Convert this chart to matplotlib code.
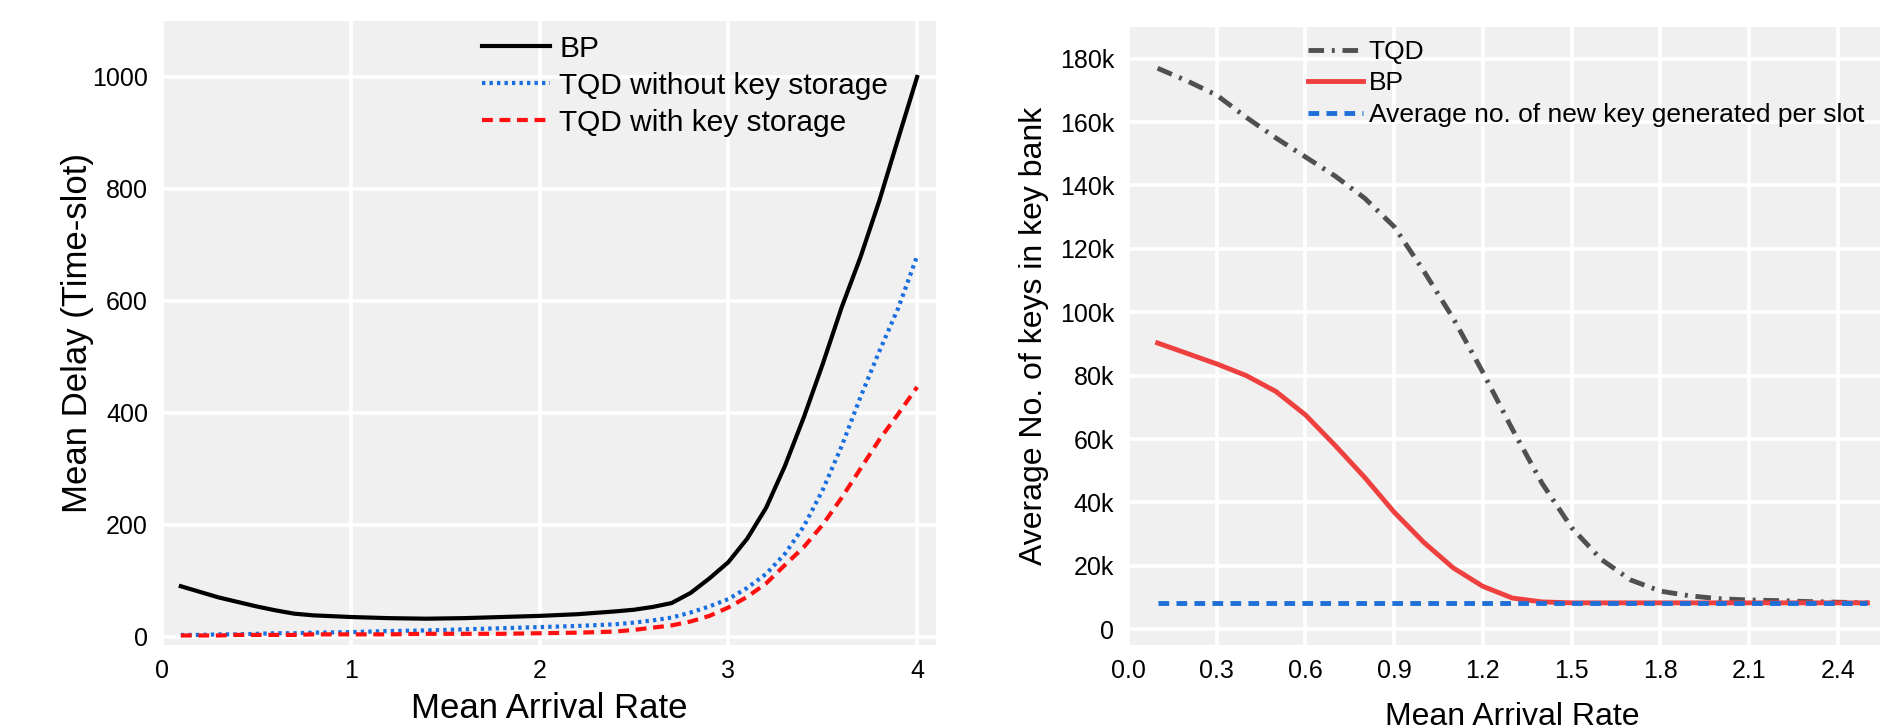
import matplotlib
matplotlib.use("Agg")
import matplotlib.pyplot as plt
from matplotlib.ticker import FuncFormatter

# left panel: mean delay vs arrival rate
rate_l = [0.1, 0.2, 0.3, 0.4, 0.5, 0.6, 0.7, 0.8, 1.0, 1.2, 1.4, 1.6, 1.8, 2.0, 2.2, 2.4, 2.5, 2.6, 2.7,
          2.8, 2.9, 3.0, 3.1, 3.2, 3.3, 3.4, 3.5, 3.6, 3.7, 3.8, 3.9, 4.0]
bp_delay = [90, 80, 70, 62, 54, 47, 41, 38, 35, 33, 32, 33, 35, 37, 40, 45, 48, 53, 60,
            78, 104, 133, 175, 230, 305, 392, 487, 588, 678, 779, 890, 1000]
tqd_nostore = [3, 3, 4, 4, 5, 6, 6, 7, 8, 10, 11, 13, 15, 17, 19, 22, 25, 29, 34,
               43, 54, 67, 87, 112, 148, 197, 262, 340, 428, 510, 587, 680]
tqd_store = [2, 2, 2, 3, 3, 3, 3, 4, 4, 4, 5, 5, 5, 6, 7, 9, 12, 16, 20,
             27, 37, 52, 71, 95, 128, 160, 200, 248, 300, 352, 398, 446]

# right panel: keys in key bank (thousands)
rate_r = [0.1, 0.2, 0.3, 0.4, 0.5, 0.6, 0.7, 0.8, 0.9, 1.0, 1.1, 1.2, 1.3,
          1.4, 1.5, 1.6, 1.7, 1.8, 1.9, 2.0, 2.1, 2.2, 2.3, 2.4, 2.5]
tqd_keys = [177, 173, 168.5, 161.5, 155, 149, 143, 136, 127, 113, 98, 81, 63,
            46, 32, 22, 15.5, 12, 10.5, 9.6, 9.2, 9.0, 8.7, 8.5, 8.3]
bp_keys = [90.3, 87, 83.7, 80, 75, 67.6, 58, 47.9, 36.9, 27.4, 19.3, 13.5, 9.8,
           8.6, 8.3, 8.3, 8.3, 8.3, 8.3, 8.3, 8.3, 8.3, 8.3, 8.3, 8.3]
new_keys = [8.3] * len(rate_r)

plt.rcParams['font.family'] = ['Liberation Sans', 'DejaVu Sans']

fig = plt.figure(figsize=(18.81, 7.27), dpi=100)


def style_axes(ax):
    ax.set_facecolor('#f0f0f0')
    for s in ax.spines.values():
        s.set_visible(False)
    ax.grid(True, color='white', linewidth=2.6)
    ax.set_axisbelow(True)
    ax.tick_params(length=0, pad=10, labelsize=18, colors='black')


ax1 = fig.add_axes([0.0861, 0.1128, 0.4115, 0.8583])
style_axes(ax1)
ax1.plot(rate_l, bp_delay, color='black', lw=3, label='BP')
ax1.plot(rate_l, tqd_nostore, color='#1a6fe0', lw=3, dashes=(0.8, 1.0), label='TQD without key storage')
ax1.plot(rate_l, tqd_store, color='#ff1010', lw=3, dashes=(2.6, 1.6), label='TQD with key storage')
ax1.set_xlim(0, 4.1)
ax1.set_ylim(-15, 1100)
ax1.set_xticks([0, 1, 2, 3, 4])
ax1.set_yticks([0, 200, 400, 600, 800, 1000])
ax1.set_xlabel('Mean Arrival Rate', fontsize=25, va='center')
ax1.xaxis.set_label_coords(0.5, -0.101)
ax1.set_ylabel('Mean Delay (Time-slot)', fontsize=25, va='center')
ax1.yaxis.set_label_coords(-0.1085, 0.5)
ax1.legend(loc='upper left', bbox_to_anchor=(0.413, 0.978), frameon=False, fontsize=21.5,
           borderpad=0, borderaxespad=0, handlelength=2.3, handletextpad=0.3, labelspacing=0.3)

ax2 = fig.add_axes([0.5997, 0.1128, 0.4088, 0.850])
style_axes(ax2)
ax2.plot(rate_r, tqd_keys, color='#505050', lw=3.5, dashes=(3.2, 1.6, 0.6, 1.6), label='TQD')
ax2.plot(rate_r, bp_keys, color='#ef4040', lw=3.5, label='BP')
ax2.plot(rate_r, new_keys, color='#1f6fd8', lw=3.5, dashes=(2.2, 1.5),
         label='Average no. of new key generated per slot')
ax2.set_xlim(0, 2.6)
ax2.set_ylim(-5, 190)
ax2.set_xticks([0.0, 0.3, 0.6, 0.9, 1.2, 1.5, 1.8, 2.1, 2.4])
ax2.xaxis.set_major_formatter(FuncFormatter(lambda v, p: f'{v:.1f}'))
ax2.set_yticks(range(0, 181, 20))
ax2.yaxis.set_major_formatter(FuncFormatter(lambda v, p: '0' if v == 0 else f'{int(v)}k'))
ax2.set_xlabel('Mean Arrival Rate', fontsize=23, va='center')
ax2.xaxis.set_label_coords(0.5, -0.117)
ax2.set_ylabel('Average No. of keys in key bank', fontsize=23, va='center')
ax2.yaxis.set_label_coords(-0.122, 0.5)
ax2.legend(loc='upper left', bbox_to_anchor=(0.234, 0.979), frameon=False, fontsize=19,
           borderpad=0, borderaxespad=0, handlelength=2.1, handletextpad=0.2, labelspacing=0.28)

fig.savefig('out.png', dpi=100)
